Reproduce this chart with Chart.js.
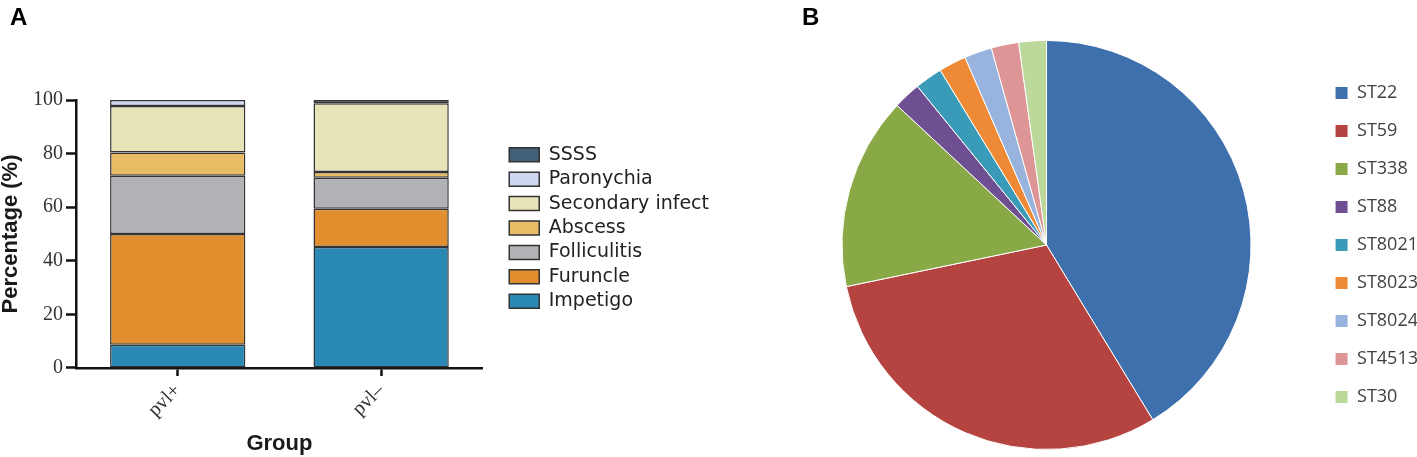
<!DOCTYPE html>
<html>
<head>
<meta charset="utf-8">
<script src="https://cdn.jsdelivr.net/npm/chart.js@4"></script>
<style>
  body { margin: 0; background: #fff; width: 1417px; height: 457px; position: relative; overflow: hidden; }
  canvas { position: absolute; top: 0; }
  .tag { position: absolute; z-index: 2; font: bold 24px "Liberation Sans", Arial, sans-serif; color: #000; }
</style>
</head>
<body>
<canvas id="barChart" width="740" height="457" style="left:0"></canvas>
<canvas id="pieChart" width="688" height="457" style="left:740px"></canvas>
<div class="tag" style="left:10px; top:3px">A</div>
<div class="tag" style="left:802px; top:3px">B</div>
<script>
// panel A: infection type by pvl group (percent)
const groups = ['pvl+', 'pvl\u2013'];
const infections = ['Impetigo', 'Furuncle', 'Folliculitis', 'Abscess', 'Secondary infect', 'Paronychia', 'SSSS'];
const impetigo = [8.7, 45.1];
const furuncle = [41.3, 14.3];
const folliculitis = [21.7, 11.6];
const abscess = [8.7, 2.1];
const secondary = [17.4, 25.7];
const paronychia = [2.2, 0];
const ssss = [0, 1.2];
const infColors = ['#2a88b5', '#e08e2e', '#b1b2b6', '#e8bc64', '#e8e4b9', '#cdd7f0', '#425f78'];
const yTicks = [0, 20, 40, 60, 80, 100];

// panel B: sequence types (isolate counts)
const stTypes = ['ST22', 'ST59', 'ST338', 'ST88', 'ST8021', 'ST8023', 'ST8024', 'ST4513', 'ST30'];
const stCounts = [19, 14, 7, 1, 1, 1, 1, 1, 1];
const stColors = ['#3e70ad', '#b54340', '#89a947', '#6d4f92', '#3a9bb8', '#ee8a35', '#98b3de', '#de9595', '#bcd89a'];

const serif = '"Liberation Serif", "Times New Roman", serif';
const sans = '"Liberation Sans", Arial, sans-serif';

const infValues = [impetigo, furuncle, folliculitis, abscess, secondary, paronychia, ssss];

// la leyenda de A queda separada del eje x
const legendGap = 21;
const moveLegend = {
  id: 'moveLegend',
  afterLayout(chart) {
    const lg = chart.legend;
    const dx = chart.chartArea.right + legendGap - lg.left;
    lg.left += dx;
    lg.right += dx;
    lg.top -= 6;
    lg.bottom -= 6;
  }
};

new Chart(document.getElementById('barChart'), {
  type: 'bar',
  data: {
    labels: groups,
    datasets: infections.map((name, i) => ({
      label: name,
      data: infValues[i],
      backgroundColor: infColors[i],
      borderColor: '#333',
      borderWidth: 1.5,
      borderSkipped: false,
      categoryPercentage: 1,
      barPercentage: 0.665
    }))
  },
  options: {
    responsive: false,
    animation: false,
    layout: { padding: { top: 100, left: 0, bottom: 2, right: 42 } },
    scales: {
      x: {
        stacked: true,
        grid: { drawOnChartArea: false, offset: false, tickLength: 8, tickWidth: 2.5, tickColor: '#111' },
        border: { color: '#111', width: 2.5 },
        ticks: { font: { family: serif, size: 20 }, color: '#333', minRotation: 45, maxRotation: 45, padding: 3 },
        title: { display: true, text: 'Group', color: '#1a1a1a', font: { family: sans, size: 22, weight: 'bold', lineHeight: 1 }, padding: { top: 8, bottom: 0 } }
      },
      y: {
        stacked: true,
        min: 0,
        max: 100,
        afterBuildTicks: (scale) => { scale.ticks = yTicks.map(v => ({ value: v })); },
        grid: { drawOnChartArea: false, tickLength: 10, tickWidth: 2.5, tickColor: '#111' },
        border: { color: '#111', width: 2.5 },
        ticks: { font: { family: serif, size: 20 }, color: '#333', padding: 3 },
        title: { display: true, text: 'Percentage (%)', color: '#1a1a1a', font: { family: sans, size: 22, weight: 'bold', lineHeight: 1 }, padding: { top: 0, bottom: 8 } }
      }
    },
    plugins: {
      legend: {
        position: 'right',
        fullSize: false,
        reverse: true,
        maxWidth: 260,
        labels: { boxWidth: 30, boxHeight: 14, padding: 5.4, color: '#222', font: { family: '"DejaVu Sans"', size: 19 } }
      },
      tooltip: { enabled: false }
    }
  },
  plugins: [moveLegend]
});

new Chart(document.getElementById('pieChart'), {
  type: 'pie',
  data: {
    labels: stTypes,
    datasets: [{ data: stCounts, backgroundColor: stColors, borderColor: '#fff', borderWidth: 1 }]
  },
  options: {
    responsive: false,
    animation: false,
    layout: { padding: { left: 38, top: 40, bottom: 7, right: 0 } },
    plugins: {
      legend: {
        position: 'right',
        labels: { boxWidth: 13, boxHeight: 13, padding: 20, color: '#404040', font: { family: '"Open Sans"', size: 18 } }
      },
      tooltip: { enabled: false }
    }
  }
});
</script>
</body>
</html>
